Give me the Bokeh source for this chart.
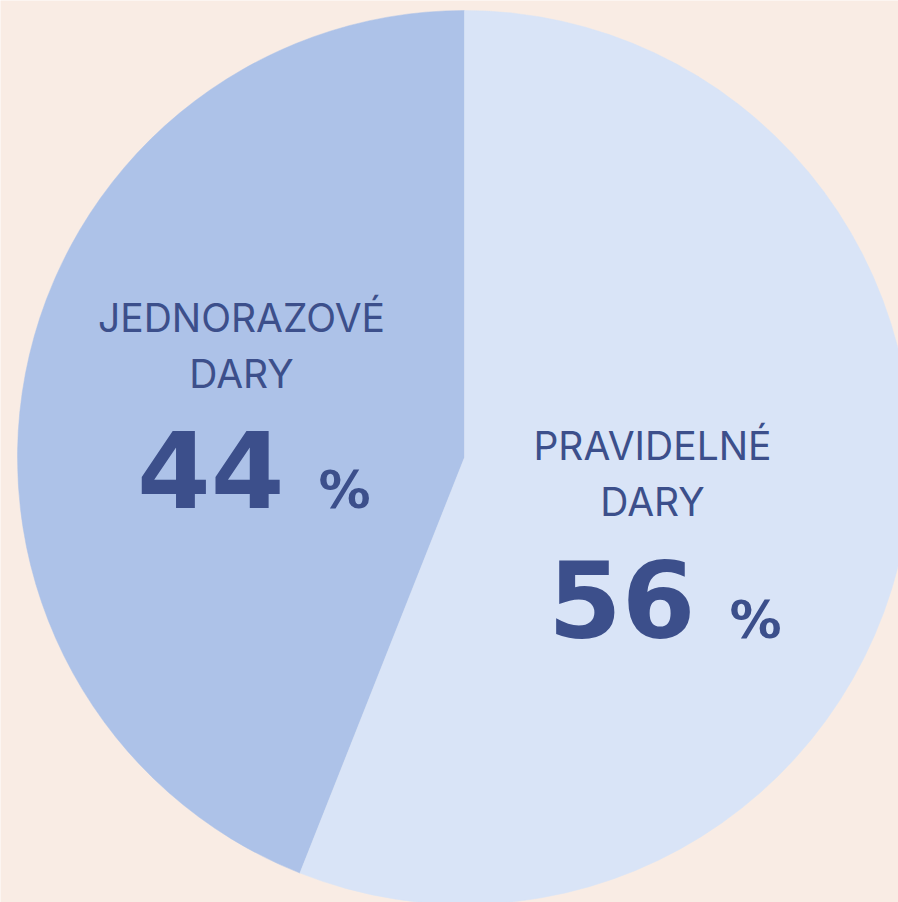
import numpy as np
from bokeh.plotting import figure
from bokeh.models import Range1d, ColumnDataSource
from bokeh.core.properties import value
from bokeh.embed import file_html
from bokeh.resources import INLINE

# Data
categories = ["JEDNORAZOVÉ DARY", "PRAVIDELNÉ DARY"]
shares = [44, 56]
label_lines = [["JEDNORAZOVÉ", "DARY"], ["PRAVIDELNÉ", "DARY"]]
slice_colors = ["#ADC2E8", "#D9E4F7"]

BG = "#F9ECE4"
TXT = "#3C4F8B"
W, H = 898, 902

p = figure(width=W, height=H, output_backend="svg", toolbar_location=None,
           x_range=Range1d(0, W), y_range=Range1d(0, H), min_border=0)
p.axis.visible = False
p.grid.visible = False
p.outline_line_color = None
p.background_fill_color = BG
p.border_fill_color = BG

cx, cy, r = 464, H - 457, 447
vals = np.array(shares, dtype=float)
frac = vals / vals.sum()
cum = np.concatenate([[0], np.cumsum(frac)])
start = np.pi / 2 + cum[:-1] * 2 * np.pi
end = np.pi / 2 + cum[1:] * 2 * np.pi
src = ColumnDataSource(dict(start=start, end=end, color=slice_colors, cat=categories))
p.wedge(x=cx, y=cy, radius=r, start_angle="start", end_angle="end",
        fill_color="color", line_color="color", line_width=0.5, source=src)

lab_font = value("Inter")
num_font = value("DejaVu Sans")


def put(x, base_px, txt, font, size, bold, align):
    # place text so its baseline lands on base_px (screen pixels from top)
    p.text(x=[x], y=[H - base_px + 0.39 * size], text=[txt], text_font=font,
           text_font_size=f"{size}px", text_font_style="bold" if bold else "normal",
           text_color=TXT, text_align=align, text_baseline="alphabetic")


# label layout: (center x, first baseline y, number right x, number baseline y)
layout = [(241, 332, 284, 510), (652, 460, 695, 640)]
for (lx, ly, nx, ny), lines, v in zip(layout, label_lines, shares):
    for i, line in enumerate(lines):
        put(lx, ly + i * 56, line, lab_font, 39, False, "center")
    put(nx, ny, str(v), num_font, 106, True, "right")
    put(nx + 34, ny, "%", num_font, 52, True, "left")

open("out.html", "w").write(file_html(p, INLINE))
